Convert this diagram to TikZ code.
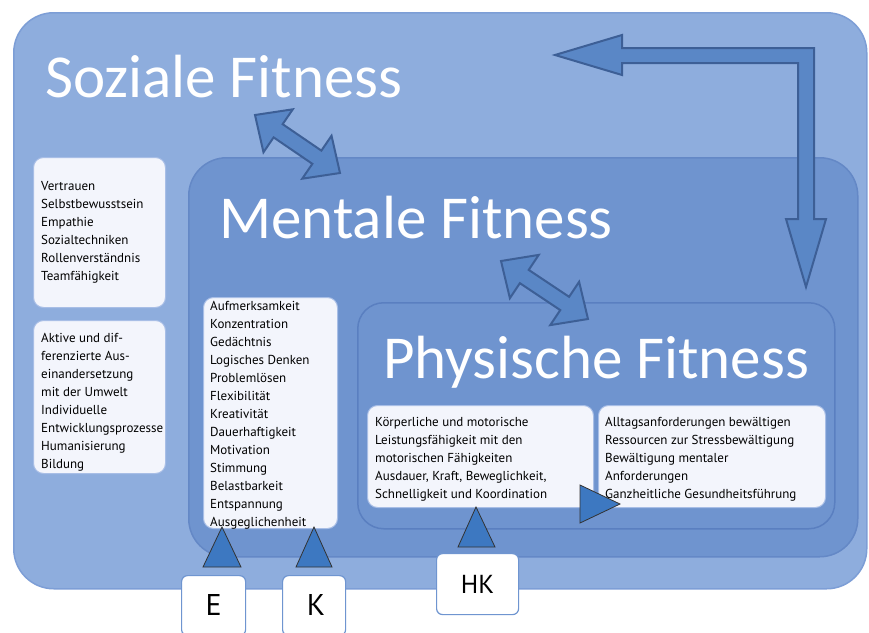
\documentclass[tikz,border=0pt]{standalone}
\usepackage{fontspec}
\setmainfont{PT Sans}
\newfontfamily\titlefont{Carlito}
\usepackage{xcolor}
\usetikzlibrary{calc}
\definecolor{sozblue}{HTML}{8EADDD}
\definecolor{sozedge}{HTML}{7D9ED6}
\definecolor{mentblue}{HTML}{6F94CF}
\definecolor{mentedge}{HTML}{6488C6}
\definecolor{physedge}{HTML}{5A7FC0}
\definecolor{boxwhite}{HTML}{F3F5FC}
\definecolor{boxedge}{HTML}{A8BEE6}
\definecolor{arrowblue}{HTML}{5A87C6}
\definecolor{arrowedge}{HTML}{3D5F96}
\definecolor{triblue}{HTML}{3D78C1}
\definecolor{labeledge}{HTML}{6F95D0}
\tikzstyle{area} = [line width=1.5pt, inner sep=0pt, anchor=north west]
\tikzstyle{title} = [text=white, font=\titlefont\fontsize{61}{61}\selectfont, inner sep=0pt, anchor=base west]
\tikzstyle{listbox} = [fill=boxwhite, draw=boxedge, line width=1pt, rounded corners=10pt, inner sep=0pt, anchor=north west]
\tikzstyle{listtext} = [align=left, font=\fontsize{13}{18}\selectfont, inner sep=0pt, anchor=west]
\tikzstyle{labelbox} = [fill=white, draw=labeledge, line width=1.2pt, rounded corners=6pt, inner sep=0pt, anchor=north west]
\tikzstyle{blockarrow} = [fill=arrowblue, draw=arrowedge, line width=2pt, line join=miter]
\tikzstyle{pointer} = [fill=triblue, draw=black!80, line width=0.8pt, line join=miter]
\newcommand{\twowayarrow}[2]{%
  \draw[blockarrow] (#1) -- ($(#1)!28pt!(#2)!26pt!90:(#2)$) -- ($(#1)!28pt!(#2)!8pt!90:(#2)$)
    -- ($(#2)!28pt!(#1)!8pt!-90:(#1)$) -- ($(#2)!28pt!(#1)!26pt!-90:(#1)$) -- (#2)
    -- ($(#2)!28pt!(#1)!26pt!90:(#1)$) -- ($(#2)!28pt!(#1)!8pt!90:(#1)$)
    -- ($(#1)!28pt!(#2)!8pt!-90:(#2)$) -- ($(#1)!28pt!(#2)!26pt!-90:(#2)$) -- cycle;}

\begin{document}
\begin{tikzpicture}[x=1pt,y=-1pt]
                            \useasboundingbox (0,0) rectangle (869,632);
                            \fill[white] (0,0) rectangle (869,632);
                            \node[area, fill=sozblue, draw=sozedge, rounded corners=40pt, minimum width=853pt, minimum height=576pt] (soz) at (13,12) {};
                            \node[area, fill=mentblue, draw=mentedge, rounded corners=38pt, minimum width=669pt, minimum height=399pt] (ment) at (188,157) {};
                            \node[area, fill=mentblue, draw=physedge, rounded corners=26pt, minimum width=477pt, minimum height=226pt] (phys) at (357,302) {};
                            \node[title] (soztitle) at (45,97) {Soziale Fitness};
                            \node[title] (menttitle) at (219,238) {Mentale Fitness};
                            \node[title] (phystitle) at (383,378) {Physische Fitness};
                            \node[listbox, minimum width=132pt, minimum height=150pt] (sozbox1) at (33,157) {};
                            \node[listtext] (sozlist1) at ([xshift=8pt]sozbox1.west) {Vertrauen\\Selbstbewusstsein\\Empathie\\Sozialtechniken\\Rollenverständnis\\Teamfähigkeit};
                            \node[listbox, minimum width=132pt, minimum height=153pt] (sozbox2) at (33,320) {};
                            \node[listtext] (sozlist2) at ([xshift=8pt, yshift=-5pt]sozbox2.west) {Aktive und dif-\\ferenzierte Aus-\\einandersetzung\\mit der Umwelt\\Individuelle\\Entwicklungsprozesse\\Humanisierung\\Bildung};
                            \node[listbox, minimum width=134pt, minimum height=231pt] (mentbox) at (203,297) {};
                            \node[listtext] (mentlist) at ([xshift=7pt, yshift=-2pt]mentbox.west) {Aufmerksamkeit\\Konzentration\\Gedächtnis\\Logisches Denken\\Problemlösen\\Flexibilität\\Kreativität\\Dauerhaftigkeit\\Motivation\\Stimmung\\Belastbarkeit\\Entspannung\\Ausgeglichenheit};
                            \node[listbox, minimum width=226pt, minimum height=102pt] (physbox1) at (367,405) {};
                            \node[listtext] (physlist1) at ([xshift=8pt, yshift=-3pt]physbox1.west) {Körperliche und motorische\\Leistungsfähigkeit mit den\\motorischen Fähigkeiten\\Ausdauer, Kraft, Beweglichkeit,\\Schnelligkeit und Koordination};
                            \node[listbox, minimum width=227pt, minimum height=102pt] (physbox2) at (598,405) {};
                            \node[listtext] (physlist2) at ([xshift=7pt, yshift=-3pt]physbox2.west) {Alltagsanforderungen bewältigen\\Ressourcen zur Stressbewältigung\\Bewältigung mentaler\\Anforderungen\\Ganzheitliche Gesundheitsführung};
                            \node[labelbox, minimum width=64pt, minimum height=60pt] (ebox) at (181,575) {};
                            \node[font=\fontsize{30}{30}\selectfont] (elabel) at ([yshift=-30pt]ebox.north) {E};
                            \node[labelbox, minimum width=63pt, minimum height=60pt] (kbox) at (282,575) {};
                            \node[font=\fontsize{30}{30}\selectfont] (klabel) at ([yshift=-30pt, xshift=2pt]kbox.north) {K};
                            \node[labelbox, minimum width=82pt, minimum height=61pt] (hkbox) at (436,553) {};
                            \node[font=\fontsize{26}{26}\selectfont] (hklabel) at (hkbox.center) {HK};
                            \draw[pointer] (222,527) -- (241,567) -- (203,567) -- cycle;
                            \draw[pointer] (314,527) -- (332,567) -- (296,567) -- cycle;
                            \draw[pointer] (476,507) -- (495,547) -- (458,547) -- cycle;
                            \draw[pointer] (620,504) -- (580,523) -- (580,485) -- cycle;
                            \coordinate (sozment1) at (255,115);
                            \coordinate (sozment2) at (340,173);
                            \coordinate (mentphys1) at (501,261);
                            \coordinate (mentphys2) at (588,319);
                            \twowayarrow{sozment1}{sozment2}
                            \twowayarrow{mentphys1}{mentphys2}
                            \draw[blockarrow] (555,55) -- (622,35) -- (622,48) -- (814,48) -- (814,219) -- (826,219) -- (806,287) -- (786,219) -- (798,219) -- (798,63) -- (622,63) -- (622,75) -- cycle;
                        \end{tikzpicture}
\end{document}
